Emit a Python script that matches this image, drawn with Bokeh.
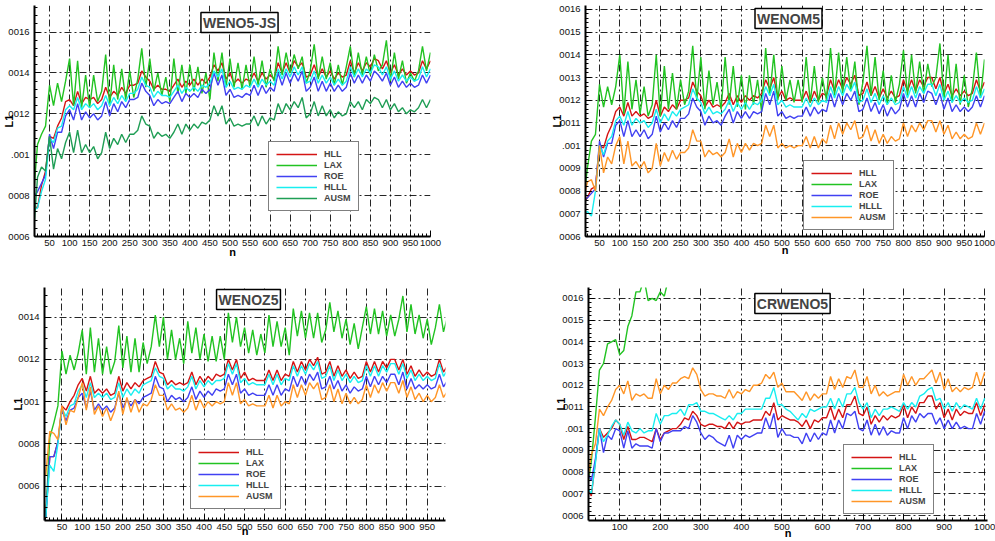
import numpy as np
from bokeh.plotting import figure
from bokeh.layouts import column, row
from bokeh.models import FixedTicker, Label, Legend, LegendItem
from bokeh.embed import file_html
from bokeh.resources import INLINE

# L1 error vs. n, values in units of 1e-4, sampled every 10 steps

# ---------------- WENO5-JS (n = 10 .. 1000) ----------------
JS_HLL = [7.5, 7.4, 8.5, 9.2, 10.9, 10.8, 11.4, 11.8, 12.6, 12.7,
          12.4, 13.1, 12.5, 12.8, 12.7, 12.8, 12.5, 12.7, 13.3, 12.8,
          13.1, 12.9, 13.3, 13.0, 13.4, 13.4, 13.5, 14.1, 13.8, 13.6,
          13.2, 13.4, 13.2, 13.2, 13.1, 13.4, 13.7, 13.3, 13.6, 13.4,
          13.7, 13.4, 13.7, 13.5, 13.8, 14.4, 14.1, 14.5, 13.7, 14.0,
          13.5, 13.7, 13.5, 13.7, 13.6, 14.0, 13.6, 14.0, 13.7, 13.9,
          13.7, 14.5, 14.0, 14.5, 14.0, 14.6, 14.3, 14.5, 13.8, 13.9,
          14.4, 13.8, 14.2, 13.8, 14.1, 13.7, 14.0, 13.8, 13.9, 14.6,
          14.0, 14.5, 14.1, 14.5, 14.3, 14.7, 14.6, 14.2, 14.6, 14.0,
          14.4, 13.9, 14.2, 13.9, 14.1, 13.9, 14.0, 14.6, 14.2, 14.6]
JS_LAX = [8.0, 10.5, 11.0, 11.4, 13.4, 12.4, 13.5, 12.6, 13.6, 14.7,
          12.4, 14.6, 12.3, 13.9, 12.3, 13.9, 12.6, 13.1, 14.9, 12.4,
          14.4, 12.7, 14.2, 12.7, 14.1, 12.8, 13.7, 15.2, 13.3, 14.7,
          13.1, 14.0, 12.9, 13.8, 12.6, 14.7, 13.0, 14.4, 13.0, 14.4,
          13.1, 14.3, 13.0, 14.0, 12.7, 15.0, 13.6, 15.0, 13.3, 14.7,
          13.3, 14.5, 13.2, 14.4, 13.3, 14.8, 13.4, 14.6, 13.3, 14.2,
          13.6, 15.3, 13.9, 15.0, 14.0, 14.9, 14.2, 14.8, 13.5, 14.1,
          15.4, 13.7, 14.8, 13.7, 14.5, 13.4, 14.4, 13.4, 14.3, 15.3,
          13.8, 15.0, 13.9, 14.8, 13.9, 14.9, 14.1, 14.4, 15.6, 13.6,
          15.0, 13.7, 14.6, 13.5, 14.0, 13.6, 14.1, 15.3, 14.1, 15.0]
JS_ROE = [7.9, 8.2, 8.6, 9.0, 11.0, 10.3, 11.1, 11.1, 11.9, 12.2,
          11.7, 12.5, 11.7, 12.1, 11.8, 12.0, 11.7, 11.9, 12.6, 11.9,
          12.5, 12.1, 12.6, 12.3, 12.7, 12.7, 12.8, 13.5, 13.1, 12.9,
          12.4, 12.7, 12.5, 12.6, 12.5, 12.8, 13.1, 12.6, 13.0, 12.8,
          13.0, 12.8, 13.2, 13.0, 13.2, 14.0, 13.4, 13.9, 12.9, 13.2,
          12.8, 12.9, 12.8, 13.0, 12.9, 13.4, 12.9, 13.4, 13.0, 13.3,
          13.1, 14.0, 13.4, 14.0, 13.5, 14.0, 13.6, 14.1, 13.1, 13.3,
          13.8, 13.1, 13.6, 13.1, 13.5, 13.1, 13.4, 13.1, 13.3, 14.0,
          13.5, 13.9, 13.5, 13.9, 13.6, 14.1, 13.9, 13.6, 14.0, 13.4,
          13.8, 13.3, 13.6, 13.3, 13.5, 13.3, 13.4, 13.9, 13.5, 13.9]
JS_HLLL = [7.3, 7.4, 8.2, 8.8, 10.8, 10.6, 11.3, 11.4, 12.2, 12.4,
           12.2, 12.8, 12.2, 12.5, 12.3, 12.5, 12.2, 12.4, 12.9, 12.4,
           12.8, 12.5, 12.9, 12.6, 13.0, 13.0, 13.2, 13.8, 13.4, 13.3,
           12.8, 13.1, 12.9, 12.9, 12.8, 13.1, 13.4, 13.0, 13.3, 13.1,
           13.3, 13.1, 13.4, 13.3, 13.5, 14.1, 13.8, 14.2, 13.3, 13.6,
           13.2, 13.3, 13.2, 13.4, 13.3, 13.7, 13.3, 13.7, 13.4, 13.6,
           13.4, 14.2, 13.7, 14.2, 13.8, 14.3, 13.9, 14.3, 13.5, 13.6,
           14.1, 13.5, 13.9, 13.5, 13.8, 13.4, 13.7, 13.4, 13.6, 14.3,
           13.8, 14.2, 13.8, 14.2, 14.0, 14.4, 14.3, 13.9, 14.3, 13.7,
           14.1, 13.6, 13.9, 13.6, 13.8, 13.6, 13.7, 14.3, 13.8, 14.2]
JS_AUSM = [6.1, 8.9, 9.4, 9.2, 10.9, 9.3, 10.3, 9.8, 10.6, 11.1,
           10.1, 11.2, 10.1, 10.5, 10.1, 10.4, 9.8, 10.1, 11.1, 10.3,
           10.8, 10.5, 11.0, 10.6, 11.0, 11.0, 11.2, 11.9, 11.5, 11.4,
           10.8, 11.1, 10.9, 11.0, 10.8, 11.1, 11.5, 11.0, 11.5, 11.2,
           11.5, 11.3, 11.6, 11.5, 11.7, 12.4, 11.9, 12.4, 11.5, 11.8,
           11.4, 11.5, 11.4, 11.5, 11.5, 11.9, 11.4, 11.9, 11.5, 11.8,
           11.7, 12.5, 12.0, 12.5, 12.2, 12.6, 12.3, 12.8, 11.8, 12.0,
           12.6, 11.9, 12.4, 11.9, 12.2, 11.8, 12.1, 11.9, 12.0, 12.6,
           12.3, 12.6, 12.2, 12.7, 12.5, 12.8, 12.7, 12.3, 12.7, 12.2,
           12.5, 12.1, 12.3, 12.0, 12.2, 12.1, 12.3, 12.7, 12.3, 12.7]

# ---------------- WENOM5 (n = 10 .. 1000) ----------------
M_HLL = [7.5, 7.7, 8.1, 8.2, 10.0, 9.9, 10.5, 10.9, 11.5, 11.7,
         11.3, 11.9, 11.3, 11.5, 11.3, 11.4, 11.2, 11.3, 12.0, 11.3,
         11.7, 11.5, 11.8, 11.6, 12.0, 12.0, 12.1, 12.8, 12.4, 12.2,
         11.7, 12.0, 11.7, 11.8, 11.7, 11.9, 12.3, 11.8, 12.2, 11.9,
         12.2, 12.0, 12.2, 12.1, 12.3, 12.9, 12.5, 13.0, 12.1, 12.4,
         12.0, 12.1, 12.0, 12.0, 12.0, 12.4, 11.9, 12.4, 12.0, 12.3,
         12.2, 12.9, 12.4, 12.9, 12.5, 13.0, 12.7, 13.1, 12.2, 12.3,
         12.8, 12.2, 12.6, 12.1, 12.5, 12.1, 12.4, 12.1, 12.2, 12.9,
         12.4, 12.9, 12.4, 12.9, 12.6, 13.0, 13.0, 12.5, 13.0, 12.3,
         12.7, 12.2, 12.5, 12.2, 12.4, 12.2, 12.3, 12.9, 12.4, 12.8]
M_LAX = [7.5, 9.0, 10.2, 10.5, 12.7, 11.7, 12.6, 11.8, 12.6, 14.0,
         11.4, 13.7, 11.6, 12.9, 11.4, 12.6, 11.3, 11.8, 14.0, 11.3,
         13.5, 11.6, 13.2, 11.6, 12.9, 11.8, 12.4, 14.4, 12.0, 13.9,
         11.6, 13.3, 11.8, 12.8, 11.6, 13.9, 11.8, 13.5, 11.7, 13.1,
         11.6, 13.1, 11.8, 12.9, 11.5, 14.3, 12.2, 14.0, 12.0, 13.5,
         12.0, 12.9, 11.9, 12.9, 11.9, 13.9, 11.9, 13.5, 11.9, 13.0,
         12.0, 14.3, 12.2, 14.1, 12.3, 13.9, 12.4, 13.7, 11.8, 12.8,
         14.4, 12.2, 13.9, 12.0, 13.3, 11.8, 13.1, 11.9, 12.7, 14.2,
         12.2, 14.0, 12.3, 13.7, 12.3, 13.6, 12.6, 13.0, 14.5, 12.0,
         14.0, 11.9, 13.6, 11.8, 13.1, 11.7, 12.5, 14.1, 12.1, 13.8]
M_ROE = [7.6, 7.7, 7.9, 8.1, 10.2, 9.5, 10.1, 10.1, 10.9, 11.1,
         10.4, 11.1, 10.4, 10.7, 10.4, 10.7, 10.3, 10.5, 11.3, 10.6,
         11.0, 10.7, 11.1, 10.8, 11.2, 11.2, 11.4, 12.1, 11.7, 11.5,
         10.9, 11.3, 11.0, 11.1, 10.9, 11.3, 11.6, 11.0, 11.5, 11.2,
         11.5, 11.2, 11.5, 11.4, 11.5, 12.3, 11.8, 12.4, 11.3, 11.5,
         11.2, 11.3, 11.2, 11.3, 11.3, 11.7, 11.3, 11.7, 11.4, 11.6,
         11.5, 12.3, 11.7, 12.3, 11.8, 12.3, 12.0, 12.4, 11.5, 11.6,
         12.1, 11.5, 11.9, 11.4, 11.8, 11.3, 11.7, 11.4, 11.6, 12.3,
         11.7, 12.2, 11.7, 12.3, 11.9, 12.4, 12.3, 11.8, 12.3, 11.6,
         12.1, 11.5, 11.8, 11.5, 11.7, 11.5, 11.7, 12.2, 11.7, 12.2]
M_HLLL = [7.0, 7.1, 6.9, 8.0, 10.0, 9.6, 10.2, 10.4, 11.1, 11.3,
          10.9, 11.5, 10.9, 11.2, 11.0, 11.1, 10.8, 11.0, 11.6, 11.0,
          11.4, 11.1, 11.5, 11.3, 11.6, 11.7, 11.8, 12.5, 12.1, 11.9,
          11.4, 11.7, 11.4, 11.5, 11.4, 11.6, 12.0, 11.5, 11.9, 11.6,
          11.9, 11.6, 11.9, 11.8, 12.0, 12.6, 12.2, 12.7, 11.8, 12.0,
          11.7, 11.8, 11.7, 11.7, 11.7, 12.1, 11.7, 12.1, 11.8, 12.0,
          11.9, 12.6, 12.1, 12.6, 12.2, 12.7, 12.4, 12.8, 11.9, 12.0,
          12.5, 11.9, 12.3, 11.8, 12.2, 11.8, 12.1, 11.8, 11.9, 12.6,
          12.1, 12.6, 12.1, 12.6, 12.3, 12.7, 12.7, 12.2, 12.7, 12.0,
          12.4, 11.9, 12.2, 11.9, 12.1, 11.9, 12.0, 12.6, 12.1, 12.5]
M_AUSM = [7.6, 8.4, 8.5, 8.0, 10.0, 8.8, 9.5, 9.2, 10.0, 10.4,
          9.2, 10.2, 9.1, 9.3, 9.0, 9.3, 8.8, 9.0, 10.1, 9.1,
          9.7, 9.3, 9.8, 9.4, 9.7, 9.7, 9.9, 10.7, 10.2, 10.2,
          9.5, 9.8, 9.6, 9.7, 9.5, 9.7, 10.3, 9.5, 10.1, 9.7,
          10.1, 9.8, 10.1, 10.0, 10.1, 10.9, 10.4, 10.9, 9.9, 10.1,
          9.9, 10.0, 9.9, 10.0, 10.0, 10.4, 9.9, 10.4, 9.9, 10.3,
          10.1, 10.9, 10.3, 11.0, 10.5, 11.0, 10.7, 11.1, 10.3, 10.4,
          10.9, 10.2, 10.7, 10.1, 10.5, 10.1, 10.4, 10.2, 10.3, 11.0,
          10.4, 10.9, 10.6, 11.0, 10.7, 11.1, 11.1, 10.6, 11.1, 10.5,
          10.9, 10.3, 10.6, 10.3, 10.5, 10.3, 10.4, 11.0, 10.5, 11.0]

# ---------------- WENOZ5 (n = 10 .. 1000) ----------------
Z_HLL = [4.5, 7.4, 7.4, 8.1, 9.8, 9.6, 10.0, 10.3, 10.8, 11.1,
         10.5, 11.2, 10.4, 10.6, 10.4, 10.6, 10.3, 10.4, 11.2, 10.5,
         10.9, 10.6, 10.9, 10.7, 11.0, 11.1, 11.2, 11.9, 11.4, 11.3,
         10.8, 11.0, 10.8, 10.9, 10.8, 10.9, 11.4, 10.8, 11.2, 10.9,
         11.2, 11.0, 11.3, 11.2, 11.3, 12.0, 11.5, 12.0, 11.1, 11.4,
         11.0, 11.1, 11.0, 11.0, 11.0, 11.5, 11.0, 11.5, 11.0, 11.3,
         11.2, 11.9, 11.4, 11.9, 11.5, 12.0, 11.7, 12.1, 11.3, 11.4,
         11.9, 11.2, 11.7, 11.2, 11.5, 11.1, 11.4, 11.1, 11.2, 11.9,
         11.4, 11.9, 11.4, 11.9, 11.6, 12.0, 12.0, 11.5, 12.0, 11.3,
         11.7, 11.2, 11.5, 11.2, 11.4, 11.2, 11.3, 12.0, 11.4, 11.7]
Z_LAX = [4.5, 8.3, 9.0, 9.8, 12.4, 11.3, 12.2, 11.5, 12.3, 13.4,
         11.3, 13.5, 11.4, 13.0, 11.3, 12.6, 11.3, 11.9, 13.6, 11.6,
         13.1, 11.4, 13.0, 11.4, 12.8, 11.8, 12.6, 14.1, 12.6, 14.0,
         12.0, 13.4, 12.0, 13.0, 11.8, 13.8, 12.3, 13.5, 12.0, 13.2,
         11.9, 13.1, 11.9, 13.1, 12.0, 14.2, 12.8, 14.0, 12.6, 13.5,
         12.3, 13.4, 12.2, 13.2, 12.3, 14.1, 12.6, 13.8, 12.6, 13.5,
         12.2, 14.4, 13.1, 14.3, 13.0, 14.2, 13.0, 14.2, 12.8, 13.4,
         14.7, 13.3, 14.3, 13.0, 13.9, 12.7, 13.7, 12.5, 13.5, 14.5,
         13.2, 14.4, 13.2, 14.3, 13.1, 14.1, 13.1, 13.9, 15.0, 13.3,
         14.6, 13.2, 14.1, 13.0, 13.9, 12.7, 13.5, 14.6, 13.3, 14.0]
Z_ROE = [4.5, 7.4, 7.4, 8.1, 9.6, 9.1, 9.6, 9.7, 10.2, 10.4,
         9.7, 10.5, 9.6, 9.9, 9.6, 9.8, 9.5, 9.7, 10.4, 9.7,
         10.1, 9.8, 10.1, 9.9, 10.2, 10.3, 10.4, 11.2, 10.7, 10.6,
         10.0, 10.3, 10.1, 10.2, 10.0, 10.2, 10.7, 10.1, 10.5, 10.2,
         10.5, 10.3, 10.6, 10.5, 10.6, 11.3, 10.8, 11.3, 10.4, 10.6,
         10.3, 10.4, 10.3, 10.3, 10.3, 10.8, 10.3, 10.8, 10.3, 10.6,
         10.5, 11.2, 10.7, 11.2, 10.8, 11.3, 11.0, 11.4, 10.6, 10.7,
         11.2, 10.6, 11.0, 10.5, 10.8, 10.4, 10.7, 10.5, 10.6, 11.2,
         10.7, 11.2, 10.8, 11.2, 10.9, 11.3, 11.3, 10.8, 11.4, 10.6,
         11.1, 10.6, 10.8, 10.6, 10.8, 10.6, 10.7, 11.3, 10.7, 11.0]
Z_HLLL = [4.5, 7.0, 6.7, 8.0, 9.7, 9.3, 9.8, 9.9, 10.5, 10.8,
          10.2, 10.9, 10.2, 10.4, 10.2, 10.4, 10.1, 10.2, 10.9, 10.2,
          10.6, 10.3, 10.6, 10.4, 10.8, 10.9, 11.0, 11.6, 11.2, 11.1,
          10.6, 10.8, 10.6, 10.6, 10.5, 10.7, 11.2, 10.6, 11.0, 10.7,
          11.0, 10.8, 11.0, 11.0, 11.1, 11.8, 11.3, 11.8, 10.9, 11.1,
          10.8, 10.9, 10.8, 10.8, 10.8, 11.3, 10.8, 11.3, 10.8, 11.1,
          11.0, 11.7, 11.2, 11.7, 11.3, 11.8, 11.5, 11.9, 11.1, 11.2,
          11.7, 11.0, 11.5, 11.0, 11.3, 10.9, 11.2, 10.9, 11.0, 11.7,
          11.2, 11.7, 11.2, 11.7, 11.4, 11.8, 11.8, 11.3, 11.8, 11.1,
          11.5, 11.0, 11.3, 11.0, 11.2, 11.0, 11.1, 11.8, 11.2, 11.5]
Z_AUSM = [6.5, 8.6, 8.5, 8.2, 9.8, 8.9, 9.6, 9.5, 10.2, 10.9,
          9.6, 10.7, 9.4, 9.8, 9.3, 9.7, 9.1, 9.6, 10.5, 9.4,
          10.2, 9.5, 10.1, 9.5, 9.9, 9.8, 10.1, 10.8, 10.3, 10.3,
          9.6, 9.9, 9.6, 9.7, 9.5, 9.7, 10.3, 9.6, 10.1, 9.7,
          10.0, 9.8, 10.0, 9.9, 10.0, 10.9, 10.3, 10.9, 9.9, 10.1,
          9.8, 9.9, 9.8, 9.8, 9.8, 10.3, 9.7, 10.3, 9.8, 10.0,
          9.9, 10.8, 10.2, 10.8, 10.3, 10.9, 10.6, 10.9, 10.1, 10.2,
          10.8, 10.0, 10.6, 9.9, 10.4, 9.9, 10.2, 9.9, 10.1, 10.8,
          10.2, 10.8, 10.4, 10.9, 10.5, 10.9, 10.9, 10.4, 11.0, 10.2,
          10.7, 10.1, 10.4, 10.0, 10.3, 10.0, 10.2, 10.8, 10.2, 10.5]

# ---------------- CRWENO5 (n = 20 .. 1000) ----------------
CR_HLL = [7.2, 6.9, 8.5, 10.0, 9.6, 9.8, 10.0, 10.4, 10.2,
          9.5, 10.1, 9.5, 9.5, 9.6, 9.6, 9.5, 9.4, 10.0, 9.5,
          9.8, 9.9, 10.0, 10.0, 10.2, 10.5, 10.4, 10.8, 10.6, 10.2,
          10.1, 10.2, 10.2, 10.1, 10.1, 10.0, 10.3, 10.0, 10.3, 10.2,
          10.3, 10.3, 10.4, 10.4, 10.4, 10.8, 10.6, 11.2, 10.4, 10.6,
          10.5, 10.4, 10.4, 10.3, 10.1, 10.4, 10.0, 10.4, 10.3, 10.5,
          10.5, 11.0, 10.4, 10.9, 10.5, 11.1, 11.1, 11.5, 10.7, 10.6,
          11.0, 10.2, 10.6, 10.3, 10.6, 10.4, 10.6, 10.5, 10.6, 11.1,
          10.5, 11.0, 10.7, 11.2, 11.2, 11.5, 11.5, 10.9, 11.2, 10.5,
          10.9, 10.4, 10.9, 10.6, 10.8, 10.7, 10.7, 11.2, 10.6, 11.1]
CR_LAX = [7.2, 8.5, 10.5, 12.7, 13.0, 13.9, 14.0, 14.1, 13.4,
          13.6, 14.7, 15.2, 16.3, 16.3, 16.9, 15.9, 16.0, 15.9, 16.3,
          16.1, 16.9]
CR_ROE = [8.0, 7.6, 8.6, 10.0, 8.9, 9.7, 9.5, 10.0, 9.9,
          9.1, 9.9, 9.1, 9.3, 9.2, 9.2, 9.2, 9.1, 10.0, 9.4,
          9.8, 9.8, 9.9, 9.9, 9.9, 10.1, 10.0, 10.6, 10.3, 9.8,
          9.5, 9.7, 9.6, 9.4, 9.3, 9.2, 9.7, 9.1, 9.7, 9.5,
          9.7, 9.6, 9.7, 9.8, 9.8, 10.5, 10.0, 10.7, 9.6, 10.0,
          9.7, 9.7, 9.6, 9.6, 9.3, 9.8, 9.4, 9.8, 9.5, 9.8,
          9.7, 10.4, 9.8, 10.4, 10.0, 10.7, 10.6, 10.8, 10.0, 9.9,
          10.4, 9.7, 10.2, 9.7, 10.1, 9.7, 9.9, 9.8, 9.8, 10.5,
          10.0, 10.6, 10.3, 10.7, 10.5, 10.7, 10.7, 10.2, 10.5, 10.0,
          10.4, 10.0, 10.3, 10.0, 10.1, 10.0, 10.0, 10.7, 10.2, 10.8]
CR_HLLL = [7.3, 7.0, 8.4, 10.0, 9.4, 9.7, 10.1, 10.4, 10.2,
           9.7, 10.3, 9.9, 9.8, 10.0, 9.8, 9.9, 9.9, 10.7, 10.2,
           10.6, 10.6, 10.7, 10.7, 10.9, 10.6, 11.1, 11.1, 11.2, 10.8,
           10.8, 10.7, 10.7, 10.6, 10.5, 10.4, 10.6, 10.4, 10.7, 10.7,
           10.9, 10.9, 10.9, 10.9, 10.9, 11.4, 11.4, 11.9, 11.1, 11.1,
           10.9, 10.8, 10.6, 10.4, 10.7, 10.5, 10.9, 10.8, 10.9, 11.0,
           11.0, 11.4, 10.9, 11.4, 11.0, 11.6, 11.6, 11.9, 11.2, 10.9,
           11.2, 10.5, 10.9, 10.6, 10.9, 10.9, 11.0, 10.9, 10.8, 11.2,
           10.9, 11.2, 11.0, 11.5, 11.6, 11.8, 11.9, 11.3, 11.4, 10.9,
           11.2, 10.8, 11.2, 10.9, 11.1, 11.0, 10.9, 11.4, 10.9, 11.4]
CR_AUSM = [7.5, 8.8, 9.3, 10.9, 10.6, 11.0, 11.3, 11.8, 12.0,
           11.6, 12.2, 11.3, 11.6, 11.5, 11.6, 11.4, 11.4, 12.3, 11.6,
           12.0, 11.8, 12.1, 12.1, 12.3, 12.4, 12.3, 12.8, 12.5, 11.8,
           11.5, 11.6, 11.6, 11.5, 11.5, 11.4, 11.8, 11.4, 11.7, 11.6,
           11.8, 11.7, 12.0, 12.0, 12.1, 12.5, 12.3, 12.6, 11.9, 12.1,
           11.7, 11.7, 11.7, 11.5, 11.3, 11.7, 11.3, 11.6, 11.4, 11.6,
           11.6, 12.4, 11.8, 12.3, 11.9, 12.4, 12.3, 12.7, 11.9, 11.9,
           12.4, 11.6, 12.0, 11.5, 11.7, 11.5, 11.6, 11.7, 11.7, 12.5,
           12.0, 12.4, 12.0, 12.3, 12.3, 12.5, 12.7, 12.1, 12.6, 11.8,
           12.3, 11.7, 11.9, 11.7, 11.9, 11.8, 11.9, 12.6, 12.0, 12.6]

SCHEMES = ["HLL", "LAX", "ROE", "HLLL", "AUSM"]

# y tick labels (value in 1e-4 -> printed label)
Y_LABELS_2 = {6: "0006", 8: "0008", 10: ".001", 12: "0012", 14: "0014", 16: "0016"}
Y_LABELS_1 = {6: "0006", 7: "0007", 8: "0008", 9: "0009", 10: ".001", 11: "0011",
              12: "0012", 13: "0013", 14: "0014", 15: "0015", 16: "0016"}

RED, GREEN, BLUE, CYAN = "#d41414", "#22c322", "#4141f2", "#19eef0"
DKGREEN, ORANGE = "#1f9e55", "#ff9628"

FONT = "Liberation Sans"


def panel(title, start, series, colors, xr, yr, xticks, xminor, ylabels, yminor,
          size, borders, legend_xy, ylab_off, xlab_off, title_xy):
    w, h = size
    bl, br, bt, bb = borders
    p = figure(width=w, height=h, x_range=xr, y_range=yr,
               output_backend="svg", toolbar_location=None,
               min_border_left=bl, min_border_right=br,
               min_border_top=bt, min_border_bottom=bb)
    p.outline_line_color = None
    p.background_fill_color = "white"
    p.border_fill_color = "white"

    p.xaxis.ticker = FixedTicker(ticks=xticks, minor_ticks=xminor)
    p.yaxis.ticker = FixedTicker(ticks=list(ylabels.keys()), minor_ticks=yminor)
    p.yaxis.major_label_overrides = {float(k): v for k, v in ylabels.items()}
    for ax in (p.xaxis[0], p.yaxis[0]):
        ax.axis_line_width = 2
        ax.axis_line_color = "black"
        ax.major_tick_in = 6
        ax.major_tick_out = 0
        ax.minor_tick_in = 3
        ax.minor_tick_out = 0
        ax.major_tick_line_color = "black"
        ax.minor_tick_line_color = "black"
        ax.major_label_text_font = FONT
        ax.major_label_text_font_size = "9.5px"
        ax.major_label_text_color = "#111111"
        ax.axis_label_text_font = FONT
        ax.axis_label_text_font_style = "bold"
        ax.axis_label_text_font_size = "11px"
        ax.axis_label_text_color = "black"
    p.xaxis.major_label_standoff = 3
    p.yaxis.major_label_standoff = 5
    p.yaxis.axis_label = "L1"
    p.yaxis.axis_label_standoff = ylab_off
    p.xaxis.axis_label = "n"
    p.xaxis.axis_label_standoff = xlab_off

    for g in (p.xgrid[0], p.ygrid[0]):
        g.grid_line_color = "black"
        g.grid_line_dash = "7 3 2 3"
        g.grid_line_width = 1
        g.grid_line_alpha = 0.85

    items = []
    for name, vals, col in zip(SCHEMES, series, colors):
        n = np.arange(start, start + 10 * len(vals), 10)
        r = p.line(n, vals, line_color=col, line_width=1.4)
        items.append(LegendItem(label=name, renderers=[r]))

    leg = Legend(items=items, location=legend_xy)
    leg.border_line_color = "black"
    leg.border_line_width = 1
    leg.background_fill_color = "white"
    leg.background_fill_alpha = 1
    leg.label_text_font = FONT
    leg.label_text_font_style = "bold"
    leg.label_text_font_size = "9px"
    leg.glyph_width = 41
    leg.glyph_height = 10
    leg.label_height = 10
    leg.label_standoff = 7
    leg.spacing = 1
    leg.padding = 7
    leg.margin = 0
    p.add_layout(leg)

    p.add_layout(Label(x=title_xy[0], y=title_xy[1], x_units="screen",
                       y_units="screen", text=title, text_align="center",
                       text_baseline="middle", text_font=FONT,
                       text_font_style="bold", text_font_size="14px",
                       background_fill_color="white", border_line_color="black",
                       border_line_width=1.5, padding=2))
    return p


def minor(a, b, step):
    return [round(v, 3) for v in np.arange(a, b + 1e-9, step)]


p1 = panel("WENO5-JS", 10, [JS_HLL, JS_LAX, JS_ROE, JS_HLLL, JS_AUSM],
           [RED, GREEN, BLUE, CYAN, DKGREEN],
           (12.5, 1000), (6.0, 17.3), list(range(50, 1001, 50)),
           list(range(10, 1001, 10)), Y_LABELS_2, minor(6.0, 17.2, 0.4),
           (497, 262), (34, 67, 5, 25), (234, 25), -10, -3,
           (205, 214))
p2 = panel("WENOM5", 10, [M_HLL, M_LAX, M_ROE, M_HLLL, M_AUSM],
           [RED, GREEN, BLUE, CYAN, ORANGE],
           (15.4, 1000), (6.0, 16.17), list(range(50, 1001, 50)),
           list(range(10, 1001, 10)), Y_LABELS_1, minor(6.0, 16.0, 0.2),
           (498, 262), (88, 11, 3, 26), (218, 6), -7, -5,
           (203, 218))
p3 = panel("WENOZ5", 10, [Z_HLL, Z_LAX, Z_ROE, Z_HLLL, Z_AUSM],
           [RED, GREEN, BLUE, CYAN, ORANGE],
           (7, 995), (4.38, 15.4), list(range(50, 951, 50)),
           list(range(10, 991, 10)), {k: v for k, v in Y_LABELS_2.items() if k <= 14},
           minor(4.5, 15.0, 0.5),
           (497, 279), (44, 52, 25, 19), (146, 11), -9, -8,
           (204, 221))
p4 = panel("CRWENO5", 20, [CR_HLL, CR_LAX, CR_ROE, CR_HLLL, CR_AUSM],
           [RED, GREEN, BLUE, CYAN, ORANGE],
           (23, 1007), (5.77, 16.5), list(range(100, 1001, 100)),
           list(range(40, 1001, 20)), Y_LABELS_1, minor(6.0, 16.4, 0.2),
           (498, 279), (91, 8, 25, 21), (255, 6), -8, -6,
           (204, 217))

layout = column(row(p1, p2), row(p3, p4))
open("out.html", "w").write(file_html(layout, INLINE))
